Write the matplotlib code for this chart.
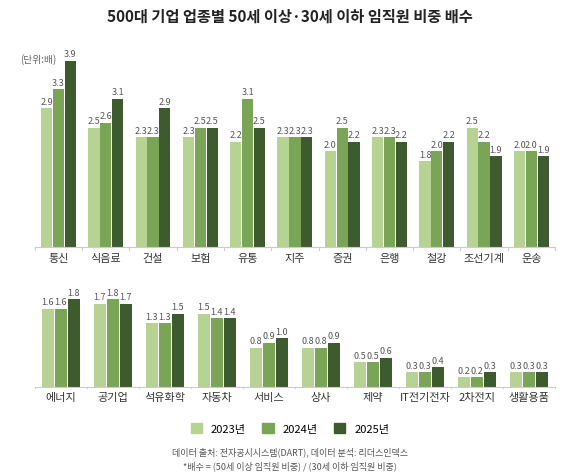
import matplotlib
matplotlib.use("Agg")
import matplotlib.pyplot as plt
import numpy as np

plt.rcParams['font.family'] = ['Noto Sans CJK KR', 'DejaVu Sans']

years = ['2023년', '2024년', '2025년']
colors = ['#b7d393', '#7ba556', '#3e5b2f']

top_cats = ['통신', '식음료', '건설', '보험', '유통', '지주', '증권', '은행', '철강', '조선기계', '운송']
top_2023 = [2.9, 2.5, 2.3, 2.3, 2.2, 2.3, 2.0, 2.3, 1.8, 2.5, 2.0]
top_2024 = [3.3, 2.6, 2.3, 2.5, 3.1, 2.3, 2.5, 2.3, 2.0, 2.2, 2.0]
top_2025 = [3.9, 3.1, 2.9, 2.5, 2.5, 2.3, 2.2, 2.2, 2.2, 1.9, 1.9]

bot_cats = ['에너지', '공기업', '석유화학', '자동차', '서비스', '상사', '제약', 'IT전기전자', '2차전지', '생활용품']
bot_2023 = [1.6, 1.7, 1.3, 1.5, 0.8, 0.8, 0.5, 0.3, 0.2, 0.3]
bot_2024 = [1.6, 1.8, 1.3, 1.4, 0.9, 0.8, 0.5, 0.3, 0.2, 0.3]
bot_2025 = [1.8, 1.7, 1.5, 1.4, 1.0, 0.9, 0.6, 0.4, 0.3, 0.3]

fig = plt.figure(figsize=(5.8, 4.77), dpi=100)
fig.text(0.5, 0.965, '500대 기업 업종별 50세 이상·30세 이하 임직원 비중 배수',
         ha='center', va='center', fontsize=11, fontweight='bold', color='#222222')
fig.text(0.035, 0.875, '(단위:배)', fontsize=7, color='#666666', va='center')

def panel(rect, cats, series, ymax):
    ax = fig.add_axes(rect)
    x = np.arange(len(cats))
    w = 0.25
    for i, (vals, c) in enumerate(zip(series, colors)):
        bars = ax.bar(x + (i - 1) * w, vals, w * 0.95, color=c, zorder=2)
        for b, v in zip(bars, vals):
            ax.text(b.get_x() + b.get_width() / 2, v + 0.05, f'{v:.1f}',
                    ha='center', va='bottom', fontsize=6.5, color='#555555')
    ax.set_xlim(-0.5, len(cats) - 0.5)
    ax.set_ylim(0, ymax)
    ax.set_xticks(x)
    ax.set_xticklabels(cats, fontsize=8, color='#333333')
    ax.tick_params(axis='x', length=0, pad=4)
    ax.set_yticks([])
    for s in ['top', 'right', 'left']:
        ax.spines[s].set_visible(False)
    ax.spines['bottom'].set_color('#cccccc')
    for xi in np.arange(len(cats) + 1) - 0.5:
        ax.plot([xi, xi], [0, -0.06 * ymax / 4.1], color='#cccccc', lw=0.8, clip_on=False)
    return ax

panel([0.06, 0.48, 0.897, 0.426], top_cats, [top_2023, top_2024, top_2025], 4.25)
ax2 = panel([0.06, 0.187, 0.897, 0.22], bot_cats, [bot_2023, bot_2024, bot_2025], 2.15)

handles = [plt.Rectangle((0, 0), 1, 1, color=c) for c in colors]
fig.legend(handles, years, loc='center', bbox_to_anchor=(0.5, 0.1), ncol=3,
           frameon=False, fontsize=8, handlelength=1.0, handleheight=1.0, columnspacing=1.5)
fig.text(0.5, 0.052, '데이터 출처: 전자공시시스템(DART), 데이터 분석: 리더스인덱스',
         ha='center', va='center', fontsize=6.5, color='#555555')
fig.text(0.5, 0.022, '*배수 = (50세 이상 임직원 비중) / (30세 이하 임직원 비중)',
         ha='center', va='center', fontsize=6.5, color='#555555')

fig.savefig('out.png', dpi=100)
